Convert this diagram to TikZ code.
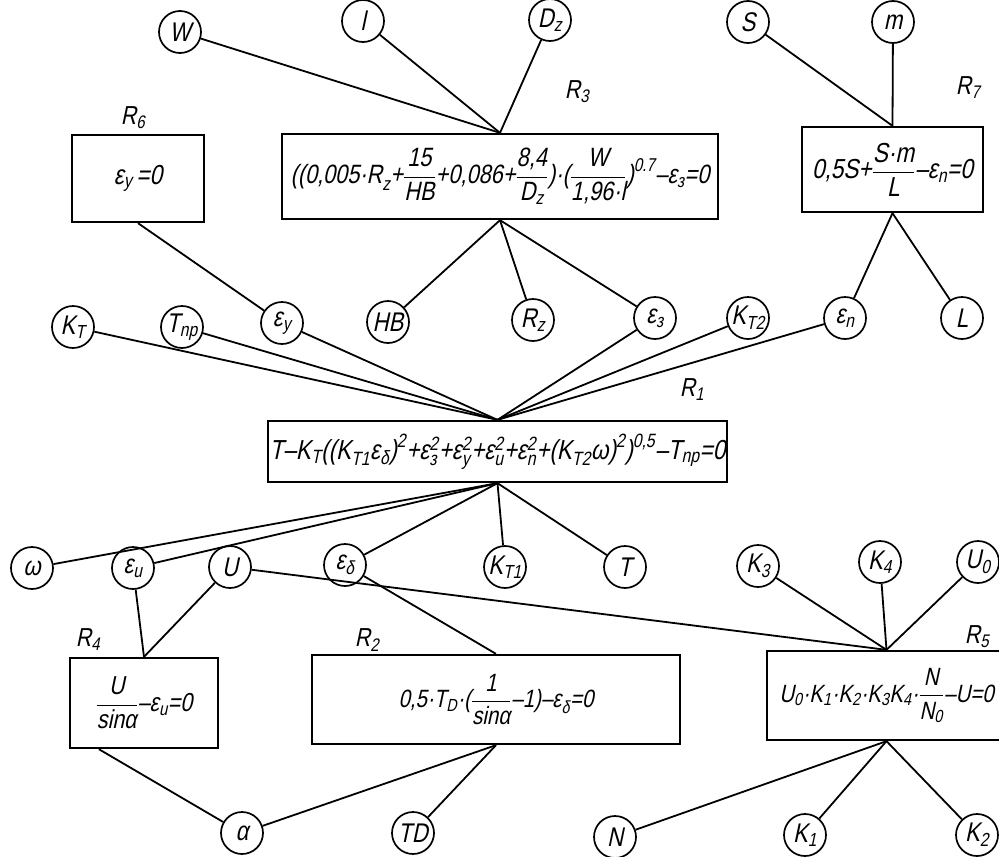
\documentclass[tikz,border=0pt]{standalone}
\usepackage{amsmath}
\usepackage{fontspec}
\setmainfont{Liberation Sans}[FakeSlant=0.21,FakeStretch=0.82]
\usetikzlibrary{calc}
\newcommand{\tx}[1]{\text{#1}}
\newcommand{\fr}[2]{\dfrac{\text{#1}}{\text{#2}}}
\begin{document}
\begin{tikzpicture}[x=1pt,y=-1pt,
  var/.style={circle,draw,line width=1.7pt,minimum size=42pt,inner sep=0pt,font=\fontsize{27}{29}\selectfont},
  eqbox/.style={draw,line width=2.3pt,rectangle,inner sep=0pt,font=\fontsize{26}{28}\selectfont},
  big/.style={font=\fontsize{27.5}{30}\selectfont},
  lbl/.style={inner sep=0pt,font=\fontsize{26}{28}\selectfont},
  link/.style={line width=1.8pt}]
\useasboundingbox (0,0) rectangle (999,857);
\fill[white] (0,0) rectangle (999,857);

% equation boxes
\node[eqbox,big,minimum width=132pt,minimum height=87pt] (r6) at (138,178.5) {$\tx{ε}_{\tx{y}}\tx{\hspace{4pt}=0}$};
\node[eqbox,font=\fontsize{26.5}{29}\selectfont,minimum width=436pt,minimum height=85pt] (r3) at (500,176.5) {$\tx{((0,005·R}_{\tx{z}}\tx{+}\fr{15}{HB}\tx{+0,086+}\fr{8,4}{D\textsubscript{z}}\tx{)·(}\fr{W}{1,96·l}\tx{)}^{\tx{0.7}}\tx{–ε}_{\tx{з}}\tx{=0}$};
\node[eqbox,big,minimum width=181pt,minimum height=85pt] (r7) at (892.5,169.5) {$\tx{0,5S+}\fr{S·m}{L}\tx{–ε}_{\tx{n}}\tx{=0}$};
\node[eqbox,big,minimum width=459pt,minimum height=61pt] (r1) at (497.5,451.5) {$\tx{T–K}_{\tx{T}}\tx{((K}_{\tx{T1}}\tx{ε}_{\tx{δ}}\tx{)}^{\tx{2}}\tx{+ε}_{\tx{з}}^{\tx{2}}\tx{+ε}_{\tx{y}}^{\tx{2}}\tx{+ε}_{\tx{u}}^{\tx{2}}\tx{+ε}_{\tx{n}}^{\tx{2}}\tx{+(K}_{\tx{T2}}\tx{ω)}^{\tx{2}}\tx{)}^{\tx{0,5}}\tx{–T}_{\tx{np}}\tx{=0}$};
\node[eqbox,minimum width=148pt,minimum height=90pt] (r4) at (144,703) {$\fr{U}{sinα}\tx{–ε}_{\tx{u}}\tx{=0}$};
\node[eqbox,font=\fontsize{25}{28}\selectfont,minimum width=368pt,minimum height=89pt] (r2) at (496,699.5) {$\tx{0,5·T}_{\tx{D}}\tx{·(}\fr{1}{sinα}\tx{–1)–ε}_{\tx{δ}}\tx{=0}$};
\node[eqbox,font=\fontsize{25}{28}\selectfont,minimum width=239pt,minimum height=89pt] (r5) at (886.5,695.5) {$\tx{U}_{\tx{0}}\tx{·K}_{\tx{1}}\tx{·K}_{\tx{2}}\tx{·K}_{\tx{3}}\tx{K}_{\tx{4}}\tx{·}\fr{N}{N\textsubscript{0}}\tx{–U=0}$};

% box labels
\node[lbl] (lr6) at (133,118) {$\tx{R}_{\tx{6}}$};
\node[lbl] (lr3) at (577,92) {$\tx{R}_{\tx{3}}$};
\node[lbl] (lr7) at (968,88) {$\tx{R}_{\tx{7}}$};
\node[lbl] (lr1) at (692,390) {$\tx{R}_{\tx{1}}$};
\node[lbl] (lr4) at (88,640) {$\tx{R}_{\tx{4}}$};
\node[lbl] (lr2) at (367,640) {$\tx{R}_{\tx{2}}$};
\node[lbl] (lr5) at (977,637) {$\tx{R}_{\tx{5}}$};

% variables
\node[var] (W) at (180,32) {W};
\node[var] (l) at (363,21) {l};
\node[var] (Dz) at (550,20) {$\tx{D}_{\tx{z}}$};
\node[var] (S) at (748,22) {S};
\node[var] (m) at (893,22) {m};
\node[var] (KT) at (73,327) {$\tx{K}_{\tx{T}}$};
\node[var] (Tnp) at (182,327) {$\tx{T}_{\tx{np}}$};
\node[var] (ey) at (282,323) {$\tx{ε}_{\tx{y}}$};
\node[var] (HB) at (388,322) {HB};
\node[var] (Rz) at (533,320) {$\tx{R}_{\tx{z}}$};
\node[var] (e3) at (655,318) {$\tx{ε}_{\tx{з}}$};
\node[var] (KT2) at (748,318) {$\tx{K}_{\tx{T2}}$};
\node[var] (en) at (845,318) {$\tx{ε}_{\tx{n}}$};
\node[var] (L) at (962,318) {L};
\node[var] (om) at (32,568) {ω};
\node[var] (eu) at (133,568) {$\tx{ε}_{\tx{u}}$};
\node[var] (U) at (230,567) {U};
\node[var] (ed) at (345,565) {$\tx{ε}_{\tx{δ}}$};
\node[var] (KT1) at (505,567) {$\tx{K}_{\tx{T1}}$};
\node[var] (T) at (625,567) {T};
\node[var] (K3) at (758,566) {$\tx{K}_{\tx{3}}$};
\node[var] (K4) at (880,562) {$\tx{K}_{\tx{4}}$};
\node[var] (U0) at (978,562) {$\tx{U}_{\tx{0}}$};
\node[var] (al) at (242,833) {α};
\node[var] (TD) at (413,833) {TD};
\node[var] (N) at (615,837) {N};
\node[var] (K1) at (805,835) {$\tx{K}_{\tx{1}}$};
\node[var] (K2) at (977,835) {$\tx{K}_{\tx{2}}$};

\coordinate (r4b) at ($(r4.south west)+(30,0)$);

% connectors
\foreach \v in {W,l,Dz} \draw[link] (\v) -- (r3.north);
\foreach \v in {S,m} \draw[link] (\v) -- (r7.north);
\foreach \v in {HB,Rz,e3} \draw[link] (\v) -- (r3.south);
\draw[link] (ey) -- (r6.south);
\foreach \v in {en,L} \draw[link] (\v) -- (r7.south);
\foreach \v in {KT,Tnp,ey,e3,KT2,en} \draw[link] (\v) -- (r1.north);
\foreach \v in {om,eu,ed,KT1,T} \draw[link] (\v) -- (r1.south);
\foreach \v in {eu,U} \draw[link] (\v) -- (r4.north);
\draw[link] (al) -- (r4b);
\draw[link] (ed) -- (r2.north);
\foreach \v in {al,TD} \draw[link] (\v) -- (r2.south);
\foreach \v in {U,K3,K4,U0} \draw[link] (\v) -- (r5.north);
\foreach \v in {N,K1,K2} \draw[link] (\v) -- (r5.south);
\end{tikzpicture}
\end{document}
